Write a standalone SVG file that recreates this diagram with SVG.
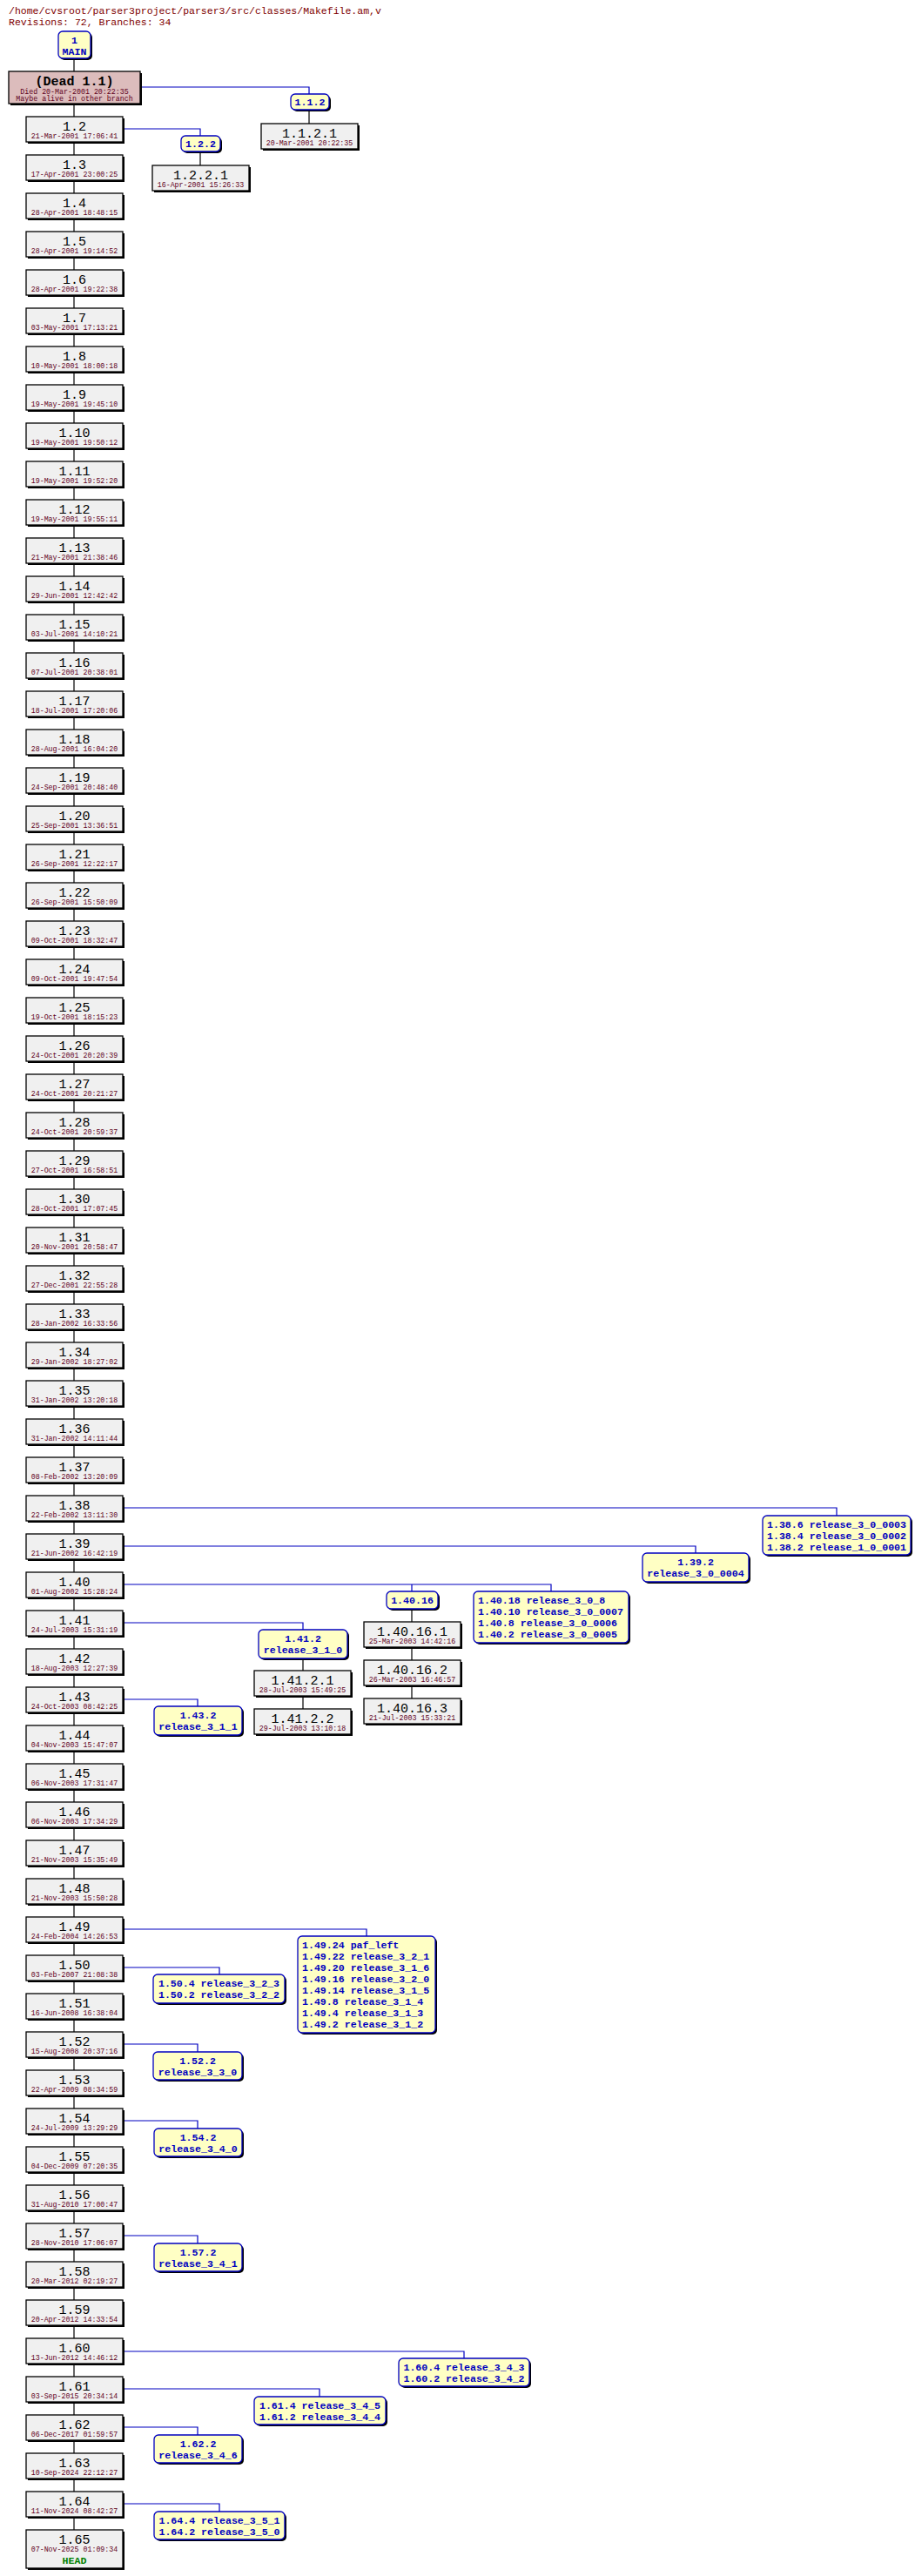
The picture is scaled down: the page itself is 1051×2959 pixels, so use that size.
<svg xmlns="http://www.w3.org/2000/svg" width="1051" height="2959" viewBox="0 0 1051 2959">
<style>
.bg{fill:#ffffff}
.sh{fill:#000000}
.rv{fill:#f0f0f0;stroke:#000000;stroke-width:1.3}
.dd{fill:#dcbcbc;stroke:#000000;stroke-width:1.3}
.br{fill:#ffffc4;stroke:#0000c0;stroke-width:1.3}
.num{font-family:"Liberation Mono","DejaVu Sans Mono",monospace;font-size:15px;fill:#000000;text-anchor:middle}
.dt{font-family:"Liberation Mono","DejaVu Sans Mono",monospace;font-size:8.3px;fill:#600020;text-anchor:middle}
.bl{font-family:"Liberation Mono","DejaVu Sans Mono",monospace;font-size:11.6px;font-weight:bold;fill:#0000c0}
.c{text-anchor:middle}
.hd{font-family:"Liberation Mono","DejaVu Sans Mono",monospace;font-size:11.5px;fill:#800000}
.bk{fill:none;stroke:#000000;stroke-width:1.2}
.bu{fill:none;stroke:#0000c0;stroke-width:1.2}
</style>
<rect class="bg" x="0" y="0" width="1051" height="2959"/>
<text class="hd" x="10" y="16">/home/cvsroot/parser3project/parser3/src/classes/Makefile.am,v</text>
<text class="hd" x="10" y="29">Revisions: 72, Branches: 34</text>
<g id="connectors">
<path class="bk" d="M85,67 V2906 M355,126 V142 M230,174 V190 M473,1848 V1951 M348,1905 V1963"/>
<path class="bu" d="M141,100 H355 V108 M141,148 H230 V156 M141,1732 H961 V1741 M141,1776 H799 V1784 M141,1820 H633 V1828 M473,1820 V1828 M141,1864 H348 V1872 M141,1952 H227 V1960 M141,2216 H421 V2224 M141,2260 H252 V2268 M141,2348 H227 V2357 M141,2436 H227 V2445 M141,2568 H227 V2577 M141,2701 H533 V2709 M141,2744 H367 V2753 M141,2788 H227 V2797 M141,2876 H252 V2885"/>
</g>
<g id="MAIN" transform="translate(67,36)"><rect class="sh" x="2" y="2" width="37" height="31" rx="5"/><rect class="br" x="0" y="0" width="37" height="31" rx="5"/><text class="bl c" x="18.5" y="14">1</text><text class="bl c" x="18.5" y="27">MAIN</text></g>
<g id="dead1.1" transform="translate(10,82)"><rect class="sh" x="2" y="2" width="151" height="37"/><rect class="dd" x="0" y="0" width="151" height="37"/><text class="num" x="75.5" y="16" font-weight="bold">(Dead 1.1)</text><text class="dt" x="75.5" y="26">Died 20-Mar-2001 20:22:35</text><text class="dt" x="75.5" y="34">Maybe alive in other branch</text></g>
<g id="r1.2" transform="translate(30,134)"><rect class="sh" x="2" y="2" width="111" height="29"/><rect class="rv" x="0" y="0" width="111" height="29"/><text class="num" x="55.5" y="16">1.2</text><text class="dt" x="55.5" y="25">21-Mar-2001 17:06:41</text></g>
<g id="r1.3" transform="translate(30,178)"><rect class="sh" x="2" y="2" width="111" height="29"/><rect class="rv" x="0" y="0" width="111" height="29"/><text class="num" x="55.5" y="16">1.3</text><text class="dt" x="55.5" y="25">17-Apr-2001 23:00:25</text></g>
<g id="r1.4" transform="translate(30,222)"><rect class="sh" x="2" y="2" width="111" height="29"/><rect class="rv" x="0" y="0" width="111" height="29"/><text class="num" x="55.5" y="16">1.4</text><text class="dt" x="55.5" y="25">28-Apr-2001 18:48:15</text></g>
<g id="r1.5" transform="translate(30,266)"><rect class="sh" x="2" y="2" width="111" height="29"/><rect class="rv" x="0" y="0" width="111" height="29"/><text class="num" x="55.5" y="16">1.5</text><text class="dt" x="55.5" y="25">28-Apr-2001 19:14:52</text></g>
<g id="r1.6" transform="translate(30,310)"><rect class="sh" x="2" y="2" width="111" height="29"/><rect class="rv" x="0" y="0" width="111" height="29"/><text class="num" x="55.5" y="16">1.6</text><text class="dt" x="55.5" y="25">28-Apr-2001 19:22:38</text></g>
<g id="r1.7" transform="translate(30,354)"><rect class="sh" x="2" y="2" width="111" height="29"/><rect class="rv" x="0" y="0" width="111" height="29"/><text class="num" x="55.5" y="16">1.7</text><text class="dt" x="55.5" y="25">03-May-2001 17:13:21</text></g>
<g id="r1.8" transform="translate(30,398)"><rect class="sh" x="2" y="2" width="111" height="29"/><rect class="rv" x="0" y="0" width="111" height="29"/><text class="num" x="55.5" y="16">1.8</text><text class="dt" x="55.5" y="25">10-May-2001 18:00:18</text></g>
<g id="r1.9" transform="translate(30,442)"><rect class="sh" x="2" y="2" width="111" height="29"/><rect class="rv" x="0" y="0" width="111" height="29"/><text class="num" x="55.5" y="16">1.9</text><text class="dt" x="55.5" y="25">19-May-2001 19:45:10</text></g>
<g id="r1.10" transform="translate(30,486)"><rect class="sh" x="2" y="2" width="111" height="29"/><rect class="rv" x="0" y="0" width="111" height="29"/><text class="num" x="55.5" y="16">1.10</text><text class="dt" x="55.5" y="25">19-May-2001 19:50:12</text></g>
<g id="r1.11" transform="translate(30,530)"><rect class="sh" x="2" y="2" width="111" height="29"/><rect class="rv" x="0" y="0" width="111" height="29"/><text class="num" x="55.5" y="16">1.11</text><text class="dt" x="55.5" y="25">19-May-2001 19:52:20</text></g>
<g id="r1.12" transform="translate(30,574)"><rect class="sh" x="2" y="2" width="111" height="29"/><rect class="rv" x="0" y="0" width="111" height="29"/><text class="num" x="55.5" y="16">1.12</text><text class="dt" x="55.5" y="25">19-May-2001 19:55:11</text></g>
<g id="r1.13" transform="translate(30,618)"><rect class="sh" x="2" y="2" width="111" height="29"/><rect class="rv" x="0" y="0" width="111" height="29"/><text class="num" x="55.5" y="16">1.13</text><text class="dt" x="55.5" y="25">21-May-2001 21:38:46</text></g>
<g id="r1.14" transform="translate(30,662)"><rect class="sh" x="2" y="2" width="111" height="29"/><rect class="rv" x="0" y="0" width="111" height="29"/><text class="num" x="55.5" y="16">1.14</text><text class="dt" x="55.5" y="25">29-Jun-2001 12:42:42</text></g>
<g id="r1.15" transform="translate(30,706)"><rect class="sh" x="2" y="2" width="111" height="29"/><rect class="rv" x="0" y="0" width="111" height="29"/><text class="num" x="55.5" y="16">1.15</text><text class="dt" x="55.5" y="25">03-Jul-2001 14:10:21</text></g>
<g id="r1.16" transform="translate(30,750)"><rect class="sh" x="2" y="2" width="111" height="29"/><rect class="rv" x="0" y="0" width="111" height="29"/><text class="num" x="55.5" y="16">1.16</text><text class="dt" x="55.5" y="25">07-Jul-2001 20:38:01</text></g>
<g id="r1.17" transform="translate(30,794)"><rect class="sh" x="2" y="2" width="111" height="29"/><rect class="rv" x="0" y="0" width="111" height="29"/><text class="num" x="55.5" y="16">1.17</text><text class="dt" x="55.5" y="25">18-Jul-2001 17:20:06</text></g>
<g id="r1.18" transform="translate(30,838)"><rect class="sh" x="2" y="2" width="111" height="29"/><rect class="rv" x="0" y="0" width="111" height="29"/><text class="num" x="55.5" y="16">1.18</text><text class="dt" x="55.5" y="25">28-Aug-2001 16:04:20</text></g>
<g id="r1.19" transform="translate(30,882)"><rect class="sh" x="2" y="2" width="111" height="29"/><rect class="rv" x="0" y="0" width="111" height="29"/><text class="num" x="55.5" y="16">1.19</text><text class="dt" x="55.5" y="25">24-Sep-2001 20:48:40</text></g>
<g id="r1.20" transform="translate(30,926)"><rect class="sh" x="2" y="2" width="111" height="29"/><rect class="rv" x="0" y="0" width="111" height="29"/><text class="num" x="55.5" y="16">1.20</text><text class="dt" x="55.5" y="25">25-Sep-2001 13:36:51</text></g>
<g id="r1.21" transform="translate(30,970)"><rect class="sh" x="2" y="2" width="111" height="29"/><rect class="rv" x="0" y="0" width="111" height="29"/><text class="num" x="55.5" y="16">1.21</text><text class="dt" x="55.5" y="25">26-Sep-2001 12:22:17</text></g>
<g id="r1.22" transform="translate(30,1014)"><rect class="sh" x="2" y="2" width="111" height="29"/><rect class="rv" x="0" y="0" width="111" height="29"/><text class="num" x="55.5" y="16">1.22</text><text class="dt" x="55.5" y="25">26-Sep-2001 15:50:09</text></g>
<g id="r1.23" transform="translate(30,1058)"><rect class="sh" x="2" y="2" width="111" height="29"/><rect class="rv" x="0" y="0" width="111" height="29"/><text class="num" x="55.5" y="16">1.23</text><text class="dt" x="55.5" y="25">09-Oct-2001 18:32:47</text></g>
<g id="r1.24" transform="translate(30,1102)"><rect class="sh" x="2" y="2" width="111" height="29"/><rect class="rv" x="0" y="0" width="111" height="29"/><text class="num" x="55.5" y="16">1.24</text><text class="dt" x="55.5" y="25">09-Oct-2001 19:47:54</text></g>
<g id="r1.25" transform="translate(30,1146)"><rect class="sh" x="2" y="2" width="111" height="29"/><rect class="rv" x="0" y="0" width="111" height="29"/><text class="num" x="55.5" y="16">1.25</text><text class="dt" x="55.5" y="25">19-Oct-2001 18:15:23</text></g>
<g id="r1.26" transform="translate(30,1190)"><rect class="sh" x="2" y="2" width="111" height="29"/><rect class="rv" x="0" y="0" width="111" height="29"/><text class="num" x="55.5" y="16">1.26</text><text class="dt" x="55.5" y="25">24-Oct-2001 20:20:39</text></g>
<g id="r1.27" transform="translate(30,1234)"><rect class="sh" x="2" y="2" width="111" height="29"/><rect class="rv" x="0" y="0" width="111" height="29"/><text class="num" x="55.5" y="16">1.27</text><text class="dt" x="55.5" y="25">24-Oct-2001 20:21:27</text></g>
<g id="r1.28" transform="translate(30,1278)"><rect class="sh" x="2" y="2" width="111" height="29"/><rect class="rv" x="0" y="0" width="111" height="29"/><text class="num" x="55.5" y="16">1.28</text><text class="dt" x="55.5" y="25">24-Oct-2001 20:59:37</text></g>
<g id="r1.29" transform="translate(30,1322)"><rect class="sh" x="2" y="2" width="111" height="29"/><rect class="rv" x="0" y="0" width="111" height="29"/><text class="num" x="55.5" y="16">1.29</text><text class="dt" x="55.5" y="25">27-Oct-2001 16:58:51</text></g>
<g id="r1.30" transform="translate(30,1366)"><rect class="sh" x="2" y="2" width="111" height="29"/><rect class="rv" x="0" y="0" width="111" height="29"/><text class="num" x="55.5" y="16">1.30</text><text class="dt" x="55.5" y="25">28-Oct-2001 17:07:45</text></g>
<g id="r1.31" transform="translate(30,1410)"><rect class="sh" x="2" y="2" width="111" height="29"/><rect class="rv" x="0" y="0" width="111" height="29"/><text class="num" x="55.5" y="16">1.31</text><text class="dt" x="55.5" y="25">20-Nov-2001 20:58:47</text></g>
<g id="r1.32" transform="translate(30,1454)"><rect class="sh" x="2" y="2" width="111" height="29"/><rect class="rv" x="0" y="0" width="111" height="29"/><text class="num" x="55.5" y="16">1.32</text><text class="dt" x="55.5" y="25">27-Dec-2001 22:55:28</text></g>
<g id="r1.33" transform="translate(30,1498)"><rect class="sh" x="2" y="2" width="111" height="29"/><rect class="rv" x="0" y="0" width="111" height="29"/><text class="num" x="55.5" y="16">1.33</text><text class="dt" x="55.5" y="25">28-Jan-2002 16:33:56</text></g>
<g id="r1.34" transform="translate(30,1542)"><rect class="sh" x="2" y="2" width="111" height="29"/><rect class="rv" x="0" y="0" width="111" height="29"/><text class="num" x="55.5" y="16">1.34</text><text class="dt" x="55.5" y="25">29-Jan-2002 18:27:02</text></g>
<g id="r1.35" transform="translate(30,1586)"><rect class="sh" x="2" y="2" width="111" height="29"/><rect class="rv" x="0" y="0" width="111" height="29"/><text class="num" x="55.5" y="16">1.35</text><text class="dt" x="55.5" y="25">31-Jan-2002 13:20:18</text></g>
<g id="r1.36" transform="translate(30,1630)"><rect class="sh" x="2" y="2" width="111" height="29"/><rect class="rv" x="0" y="0" width="111" height="29"/><text class="num" x="55.5" y="16">1.36</text><text class="dt" x="55.5" y="25">31-Jan-2002 14:11:44</text></g>
<g id="r1.37" transform="translate(30,1674)"><rect class="sh" x="2" y="2" width="111" height="29"/><rect class="rv" x="0" y="0" width="111" height="29"/><text class="num" x="55.5" y="16">1.37</text><text class="dt" x="55.5" y="25">08-Feb-2002 13:20:09</text></g>
<g id="r1.38" transform="translate(30,1718)"><rect class="sh" x="2" y="2" width="111" height="29"/><rect class="rv" x="0" y="0" width="111" height="29"/><text class="num" x="55.5" y="16">1.38</text><text class="dt" x="55.5" y="25">22-Feb-2002 13:11:30</text></g>
<g id="r1.39" transform="translate(30,1762)"><rect class="sh" x="2" y="2" width="111" height="29"/><rect class="rv" x="0" y="0" width="111" height="29"/><text class="num" x="55.5" y="16">1.39</text><text class="dt" x="55.5" y="25">21-Jun-2002 16:42:19</text></g>
<g id="r1.40" transform="translate(30,1806)"><rect class="sh" x="2" y="2" width="111" height="29"/><rect class="rv" x="0" y="0" width="111" height="29"/><text class="num" x="55.5" y="16">1.40</text><text class="dt" x="55.5" y="25">01-Aug-2002 15:28:24</text></g>
<g id="r1.41" transform="translate(30,1850)"><rect class="sh" x="2" y="2" width="111" height="29"/><rect class="rv" x="0" y="0" width="111" height="29"/><text class="num" x="55.5" y="16">1.41</text><text class="dt" x="55.5" y="25">24-Jul-2003 15:31:19</text></g>
<g id="r1.42" transform="translate(30,1894)"><rect class="sh" x="2" y="2" width="111" height="29"/><rect class="rv" x="0" y="0" width="111" height="29"/><text class="num" x="55.5" y="16">1.42</text><text class="dt" x="55.5" y="25">18-Aug-2003 12:27:39</text></g>
<g id="r1.43" transform="translate(30,1938)"><rect class="sh" x="2" y="2" width="111" height="29"/><rect class="rv" x="0" y="0" width="111" height="29"/><text class="num" x="55.5" y="16">1.43</text><text class="dt" x="55.5" y="25">24-Oct-2003 08:42:25</text></g>
<g id="r1.44" transform="translate(30,1982)"><rect class="sh" x="2" y="2" width="111" height="29"/><rect class="rv" x="0" y="0" width="111" height="29"/><text class="num" x="55.5" y="16">1.44</text><text class="dt" x="55.5" y="25">04-Nov-2003 15:47:07</text></g>
<g id="r1.45" transform="translate(30,2026)"><rect class="sh" x="2" y="2" width="111" height="29"/><rect class="rv" x="0" y="0" width="111" height="29"/><text class="num" x="55.5" y="16">1.45</text><text class="dt" x="55.5" y="25">06-Nov-2003 17:31:47</text></g>
<g id="r1.46" transform="translate(30,2070)"><rect class="sh" x="2" y="2" width="111" height="29"/><rect class="rv" x="0" y="0" width="111" height="29"/><text class="num" x="55.5" y="16">1.46</text><text class="dt" x="55.5" y="25">06-Nov-2003 17:34:29</text></g>
<g id="r1.47" transform="translate(30,2114)"><rect class="sh" x="2" y="2" width="111" height="29"/><rect class="rv" x="0" y="0" width="111" height="29"/><text class="num" x="55.5" y="16">1.47</text><text class="dt" x="55.5" y="25">21-Nov-2003 15:35:49</text></g>
<g id="r1.48" transform="translate(30,2158)"><rect class="sh" x="2" y="2" width="111" height="29"/><rect class="rv" x="0" y="0" width="111" height="29"/><text class="num" x="55.5" y="16">1.48</text><text class="dt" x="55.5" y="25">21-Nov-2003 15:50:28</text></g>
<g id="r1.49" transform="translate(30,2202)"><rect class="sh" x="2" y="2" width="111" height="29"/><rect class="rv" x="0" y="0" width="111" height="29"/><text class="num" x="55.5" y="16">1.49</text><text class="dt" x="55.5" y="25">24-Feb-2004 14:26:53</text></g>
<g id="r1.50" transform="translate(30,2246)"><rect class="sh" x="2" y="2" width="111" height="29"/><rect class="rv" x="0" y="0" width="111" height="29"/><text class="num" x="55.5" y="16">1.50</text><text class="dt" x="55.5" y="25">03-Feb-2007 21:08:38</text></g>
<g id="r1.51" transform="translate(30,2290)"><rect class="sh" x="2" y="2" width="111" height="29"/><rect class="rv" x="0" y="0" width="111" height="29"/><text class="num" x="55.5" y="16">1.51</text><text class="dt" x="55.5" y="25">16-Jun-2008 16:38:04</text></g>
<g id="r1.52" transform="translate(30,2334)"><rect class="sh" x="2" y="2" width="111" height="29"/><rect class="rv" x="0" y="0" width="111" height="29"/><text class="num" x="55.5" y="16">1.52</text><text class="dt" x="55.5" y="25">15-Aug-2008 20:37:16</text></g>
<g id="r1.53" transform="translate(30,2378)"><rect class="sh" x="2" y="2" width="111" height="29"/><rect class="rv" x="0" y="0" width="111" height="29"/><text class="num" x="55.5" y="16">1.53</text><text class="dt" x="55.5" y="25">22-Apr-2009 08:34:59</text></g>
<g id="r1.54" transform="translate(30,2422)"><rect class="sh" x="2" y="2" width="111" height="29"/><rect class="rv" x="0" y="0" width="111" height="29"/><text class="num" x="55.5" y="16">1.54</text><text class="dt" x="55.5" y="25">24-Jul-2009 13:29:29</text></g>
<g id="r1.55" transform="translate(30,2466)"><rect class="sh" x="2" y="2" width="111" height="29"/><rect class="rv" x="0" y="0" width="111" height="29"/><text class="num" x="55.5" y="16">1.55</text><text class="dt" x="55.5" y="25">04-Dec-2009 07:20:35</text></g>
<g id="r1.56" transform="translate(30,2510)"><rect class="sh" x="2" y="2" width="111" height="29"/><rect class="rv" x="0" y="0" width="111" height="29"/><text class="num" x="55.5" y="16">1.56</text><text class="dt" x="55.5" y="25">31-Aug-2010 17:00:47</text></g>
<g id="r1.57" transform="translate(30,2554)"><rect class="sh" x="2" y="2" width="111" height="29"/><rect class="rv" x="0" y="0" width="111" height="29"/><text class="num" x="55.5" y="16">1.57</text><text class="dt" x="55.5" y="25">28-Nov-2010 17:06:07</text></g>
<g id="r1.58" transform="translate(30,2598)"><rect class="sh" x="2" y="2" width="111" height="29"/><rect class="rv" x="0" y="0" width="111" height="29"/><text class="num" x="55.5" y="16">1.58</text><text class="dt" x="55.5" y="25">20-Mar-2012 02:19:27</text></g>
<g id="r1.59" transform="translate(30,2642)"><rect class="sh" x="2" y="2" width="111" height="29"/><rect class="rv" x="0" y="0" width="111" height="29"/><text class="num" x="55.5" y="16">1.59</text><text class="dt" x="55.5" y="25">20-Apr-2012 14:33:54</text></g>
<g id="r1.60" transform="translate(30,2686)"><rect class="sh" x="2" y="2" width="111" height="29"/><rect class="rv" x="0" y="0" width="111" height="29"/><text class="num" x="55.5" y="16">1.60</text><text class="dt" x="55.5" y="25">13-Jun-2012 14:46:12</text></g>
<g id="r1.61" transform="translate(30,2730)"><rect class="sh" x="2" y="2" width="111" height="29"/><rect class="rv" x="0" y="0" width="111" height="29"/><text class="num" x="55.5" y="16">1.61</text><text class="dt" x="55.5" y="25">03-Sep-2015 20:34:14</text></g>
<g id="r1.62" transform="translate(30,2774)"><rect class="sh" x="2" y="2" width="111" height="29"/><rect class="rv" x="0" y="0" width="111" height="29"/><text class="num" x="55.5" y="16">1.62</text><text class="dt" x="55.5" y="25">06-Dec-2017 01:59:57</text></g>
<g id="r1.63" transform="translate(30,2818)"><rect class="sh" x="2" y="2" width="111" height="29"/><rect class="rv" x="0" y="0" width="111" height="29"/><text class="num" x="55.5" y="16">1.63</text><text class="dt" x="55.5" y="25">10-Sep-2024 22:12:27</text></g>
<g id="r1.64" transform="translate(30,2862)"><rect class="sh" x="2" y="2" width="111" height="29"/><rect class="rv" x="0" y="0" width="111" height="29"/><text class="num" x="55.5" y="16">1.64</text><text class="dt" x="55.5" y="25">11-Nov-2024 08:42:27</text></g>
<g id="r1.65" transform="translate(30,2906)"><rect class="sh" x="2" y="2" width="111" height="44"/><rect class="rv" x="0" y="0" width="111" height="44"/><text class="num" x="55.5" y="16">1.65</text><text class="dt" x="55.5" y="25">07-Nov-2025 01:09:34</text><text class="bl c" x="55.5" y="39" style="fill:#008000">HEAD</text></g>
<g id="r1.1.2.1" transform="translate(300,142)"><rect class="sh" x="2" y="2" width="111" height="29"/><rect class="rv" x="0" y="0" width="111" height="29"/><text class="num" x="55.5" y="16">1.1.2.1</text><text class="dt" x="55.5" y="25">20-Mar-2001 20:22:35</text></g>
<g id="r1.2.2.1" transform="translate(175,190)"><rect class="sh" x="2" y="2" width="111" height="29"/><rect class="rv" x="0" y="0" width="111" height="29"/><text class="num" x="55.5" y="16">1.2.2.1</text><text class="dt" x="55.5" y="25">16-Apr-2001 15:26:33</text></g>
<g id="r1.40.16.1" transform="translate(418,1863)"><rect class="sh" x="2" y="2" width="111" height="29"/><rect class="rv" x="0" y="0" width="111" height="29"/><text class="num" x="55.5" y="16">1.40.16.1</text><text class="dt" x="55.5" y="25">25-Mar-2003 14:42:16</text></g>
<g id="r1.40.16.2" transform="translate(418,1907)"><rect class="sh" x="2" y="2" width="111" height="29"/><rect class="rv" x="0" y="0" width="111" height="29"/><text class="num" x="55.5" y="16">1.40.16.2</text><text class="dt" x="55.5" y="25">26-Mar-2003 16:46:57</text></g>
<g id="r1.40.16.3" transform="translate(418,1951)"><rect class="sh" x="2" y="2" width="111" height="29"/><rect class="rv" x="0" y="0" width="111" height="29"/><text class="num" x="55.5" y="16">1.40.16.3</text><text class="dt" x="55.5" y="25">21-Jul-2003 15:33:21</text></g>
<g id="r1.41.2.1" transform="translate(292,1919)"><rect class="sh" x="2" y="2" width="111" height="29"/><rect class="rv" x="0" y="0" width="111" height="29"/><text class="num" x="55.5" y="16">1.41.2.1</text><text class="dt" x="55.5" y="25">28-Jul-2003 15:49:25</text></g>
<g id="r1.41.2.2" transform="translate(292,1963)"><rect class="sh" x="2" y="2" width="111" height="29"/><rect class="rv" x="0" y="0" width="111" height="29"/><text class="num" x="55.5" y="16">1.41.2.2</text><text class="dt" x="55.5" y="25">29-Jul-2003 13:10:18</text></g>
<g id="b1.1.2" transform="translate(334,108)"><rect class="sh" x="2" y="2" width="44" height="18" rx="5"/><rect class="br" x="0" y="0" width="44" height="18" rx="5"/><text class="bl c" x="22" y="13">1.1.2</text></g>
<g id="b1.2.2" transform="translate(208,156)"><rect class="sh" x="2" y="2" width="45" height="18" rx="5"/><rect class="br" x="0" y="0" width="45" height="18" rx="5"/><text class="bl c" x="22.5" y="13">1.2.2</text></g>
<g id="b1.38" transform="translate(876,1741)"><rect class="sh" x="2" y="2" width="170" height="45" rx="5"/><rect class="br" x="0" y="0" width="170" height="45" rx="5"/><text class="bl c" x="85" y="14">1.38.6 release_3_0_0003</text><text class="bl c" x="85" y="27">1.38.4 release_3_0_0002</text><text class="bl c" x="85" y="40">1.38.2 release_1_0_0001</text></g>
<g id="b1.39.2" transform="translate(738,1784)"><rect class="sh" x="2" y="2" width="122" height="33" rx="5"/><rect class="br" x="0" y="0" width="122" height="33" rx="5"/><text class="bl c" x="61" y="14">1.39.2</text><text class="bl c" x="61" y="27">release_3_0_0004</text></g>
<g id="b1.40.16" transform="translate(444,1828)"><rect class="sh" x="2" y="2" width="59" height="20" rx="5"/><rect class="br" x="0" y="0" width="59" height="20" rx="5"/><text class="bl c" x="29.5" y="14">1.40.16</text></g>
<g id="b1.40" transform="translate(544,1828)" xml:space="preserve"><rect class="sh" x="2" y="2" width="178" height="59" rx="5"/><rect class="br" x="0" y="0" width="178" height="59" rx="5"/><text class="bl" x="5" y="14">1.40.18 release_3_0_8</text><text class="bl" x="5" y="27">1.40.10 release_3_0_0007</text><text class="bl" x="5" y="40"> 1.40.8 release_3_0_0006</text><text class="bl" x="5" y="53"> 1.40.2 release_3_0_0005</text></g>
<g id="b1.41.2" transform="translate(297,1872)"><rect class="sh" x="2" y="2" width="102" height="33" rx="5"/><rect class="br" x="0" y="0" width="102" height="33" rx="5"/><text class="bl c" x="51" y="14">1.41.2</text><text class="bl c" x="51" y="27">release_3_1_0</text></g>
<g id="b1.43.2" transform="translate(177,1960)"><rect class="sh" x="2" y="2" width="101" height="33" rx="5"/><rect class="br" x="0" y="0" width="101" height="33" rx="5"/><text class="bl c" x="50.5" y="14">1.43.2</text><text class="bl c" x="50.5" y="27">release_3_1_1</text></g>
<g id="b1.49" transform="translate(342,2224)" xml:space="preserve"><rect class="sh" x="2" y="2" width="158" height="111" rx="5"/><rect class="br" x="0" y="0" width="158" height="111" rx="5"/><text class="bl" x="5" y="14">1.49.24 paf_left</text><text class="bl" x="5" y="27">1.49.22 release_3_2_1</text><text class="bl" x="5" y="40">1.49.20 release_3_1_6</text><text class="bl" x="5" y="53">1.49.16 release_3_2_0</text><text class="bl" x="5" y="66">1.49.14 release_3_1_5</text><text class="bl" x="5" y="79"> 1.49.8 release_3_1_4</text><text class="bl" x="5" y="92"> 1.49.4 release_3_1_3</text><text class="bl" x="5" y="105"> 1.49.2 release_3_1_2</text></g>
<g id="b1.50" transform="translate(176,2268)"><rect class="sh" x="2" y="2" width="151" height="33" rx="5"/><rect class="br" x="0" y="0" width="151" height="33" rx="5"/><text class="bl c" x="75.5" y="14">1.50.4 release_3_2_3</text><text class="bl c" x="75.5" y="27">1.50.2 release_3_2_2</text></g>
<g id="b1.52.2" transform="translate(176,2357)"><rect class="sh" x="2" y="2" width="102" height="32" rx="5"/><rect class="br" x="0" y="0" width="102" height="32" rx="5"/><text class="bl c" x="51" y="14">1.52.2</text><text class="bl c" x="51" y="27">release_3_3_0</text></g>
<g id="b1.54.2" transform="translate(177,2445)"><rect class="sh" x="2" y="2" width="101" height="32" rx="5"/><rect class="br" x="0" y="0" width="101" height="32" rx="5"/><text class="bl c" x="50.5" y="14">1.54.2</text><text class="bl c" x="50.5" y="27">release_3_4_0</text></g>
<g id="b1.57.2" transform="translate(177,2577)"><rect class="sh" x="2" y="2" width="101" height="32" rx="5"/><rect class="br" x="0" y="0" width="101" height="32" rx="5"/><text class="bl c" x="50.5" y="14">1.57.2</text><text class="bl c" x="50.5" y="27">release_3_4_1</text></g>
<g id="b1.60" transform="translate(458,2709)"><rect class="sh" x="2" y="2" width="150" height="32" rx="5"/><rect class="br" x="0" y="0" width="150" height="32" rx="5"/><text class="bl c" x="75" y="14">1.60.4 release_3_4_3</text><text class="bl c" x="75" y="27">1.60.2 release_3_4_2</text></g>
<g id="b1.61" transform="translate(292,2753)"><rect class="sh" x="2" y="2" width="151" height="32" rx="5"/><rect class="br" x="0" y="0" width="151" height="32" rx="5"/><text class="bl c" x="75.5" y="14">1.61.4 release_3_4_5</text><text class="bl c" x="75.5" y="27">1.61.2 release_3_4_4</text></g>
<g id="b1.62.2" transform="translate(177,2797)"><rect class="sh" x="2" y="2" width="101" height="32" rx="5"/><rect class="br" x="0" y="0" width="101" height="32" rx="5"/><text class="bl c" x="50.5" y="14">1.62.2</text><text class="bl c" x="50.5" y="27">release_3_4_6</text></g>
<g id="b1.64" transform="translate(177,2885)"><rect class="sh" x="2" y="2" width="150" height="32" rx="5"/><rect class="br" x="0" y="0" width="150" height="32" rx="5"/><text class="bl c" x="75" y="14">1.64.4 release_3_5_1</text><text class="bl c" x="75" y="27">1.64.2 release_3_5_0</text></g>
</svg>
